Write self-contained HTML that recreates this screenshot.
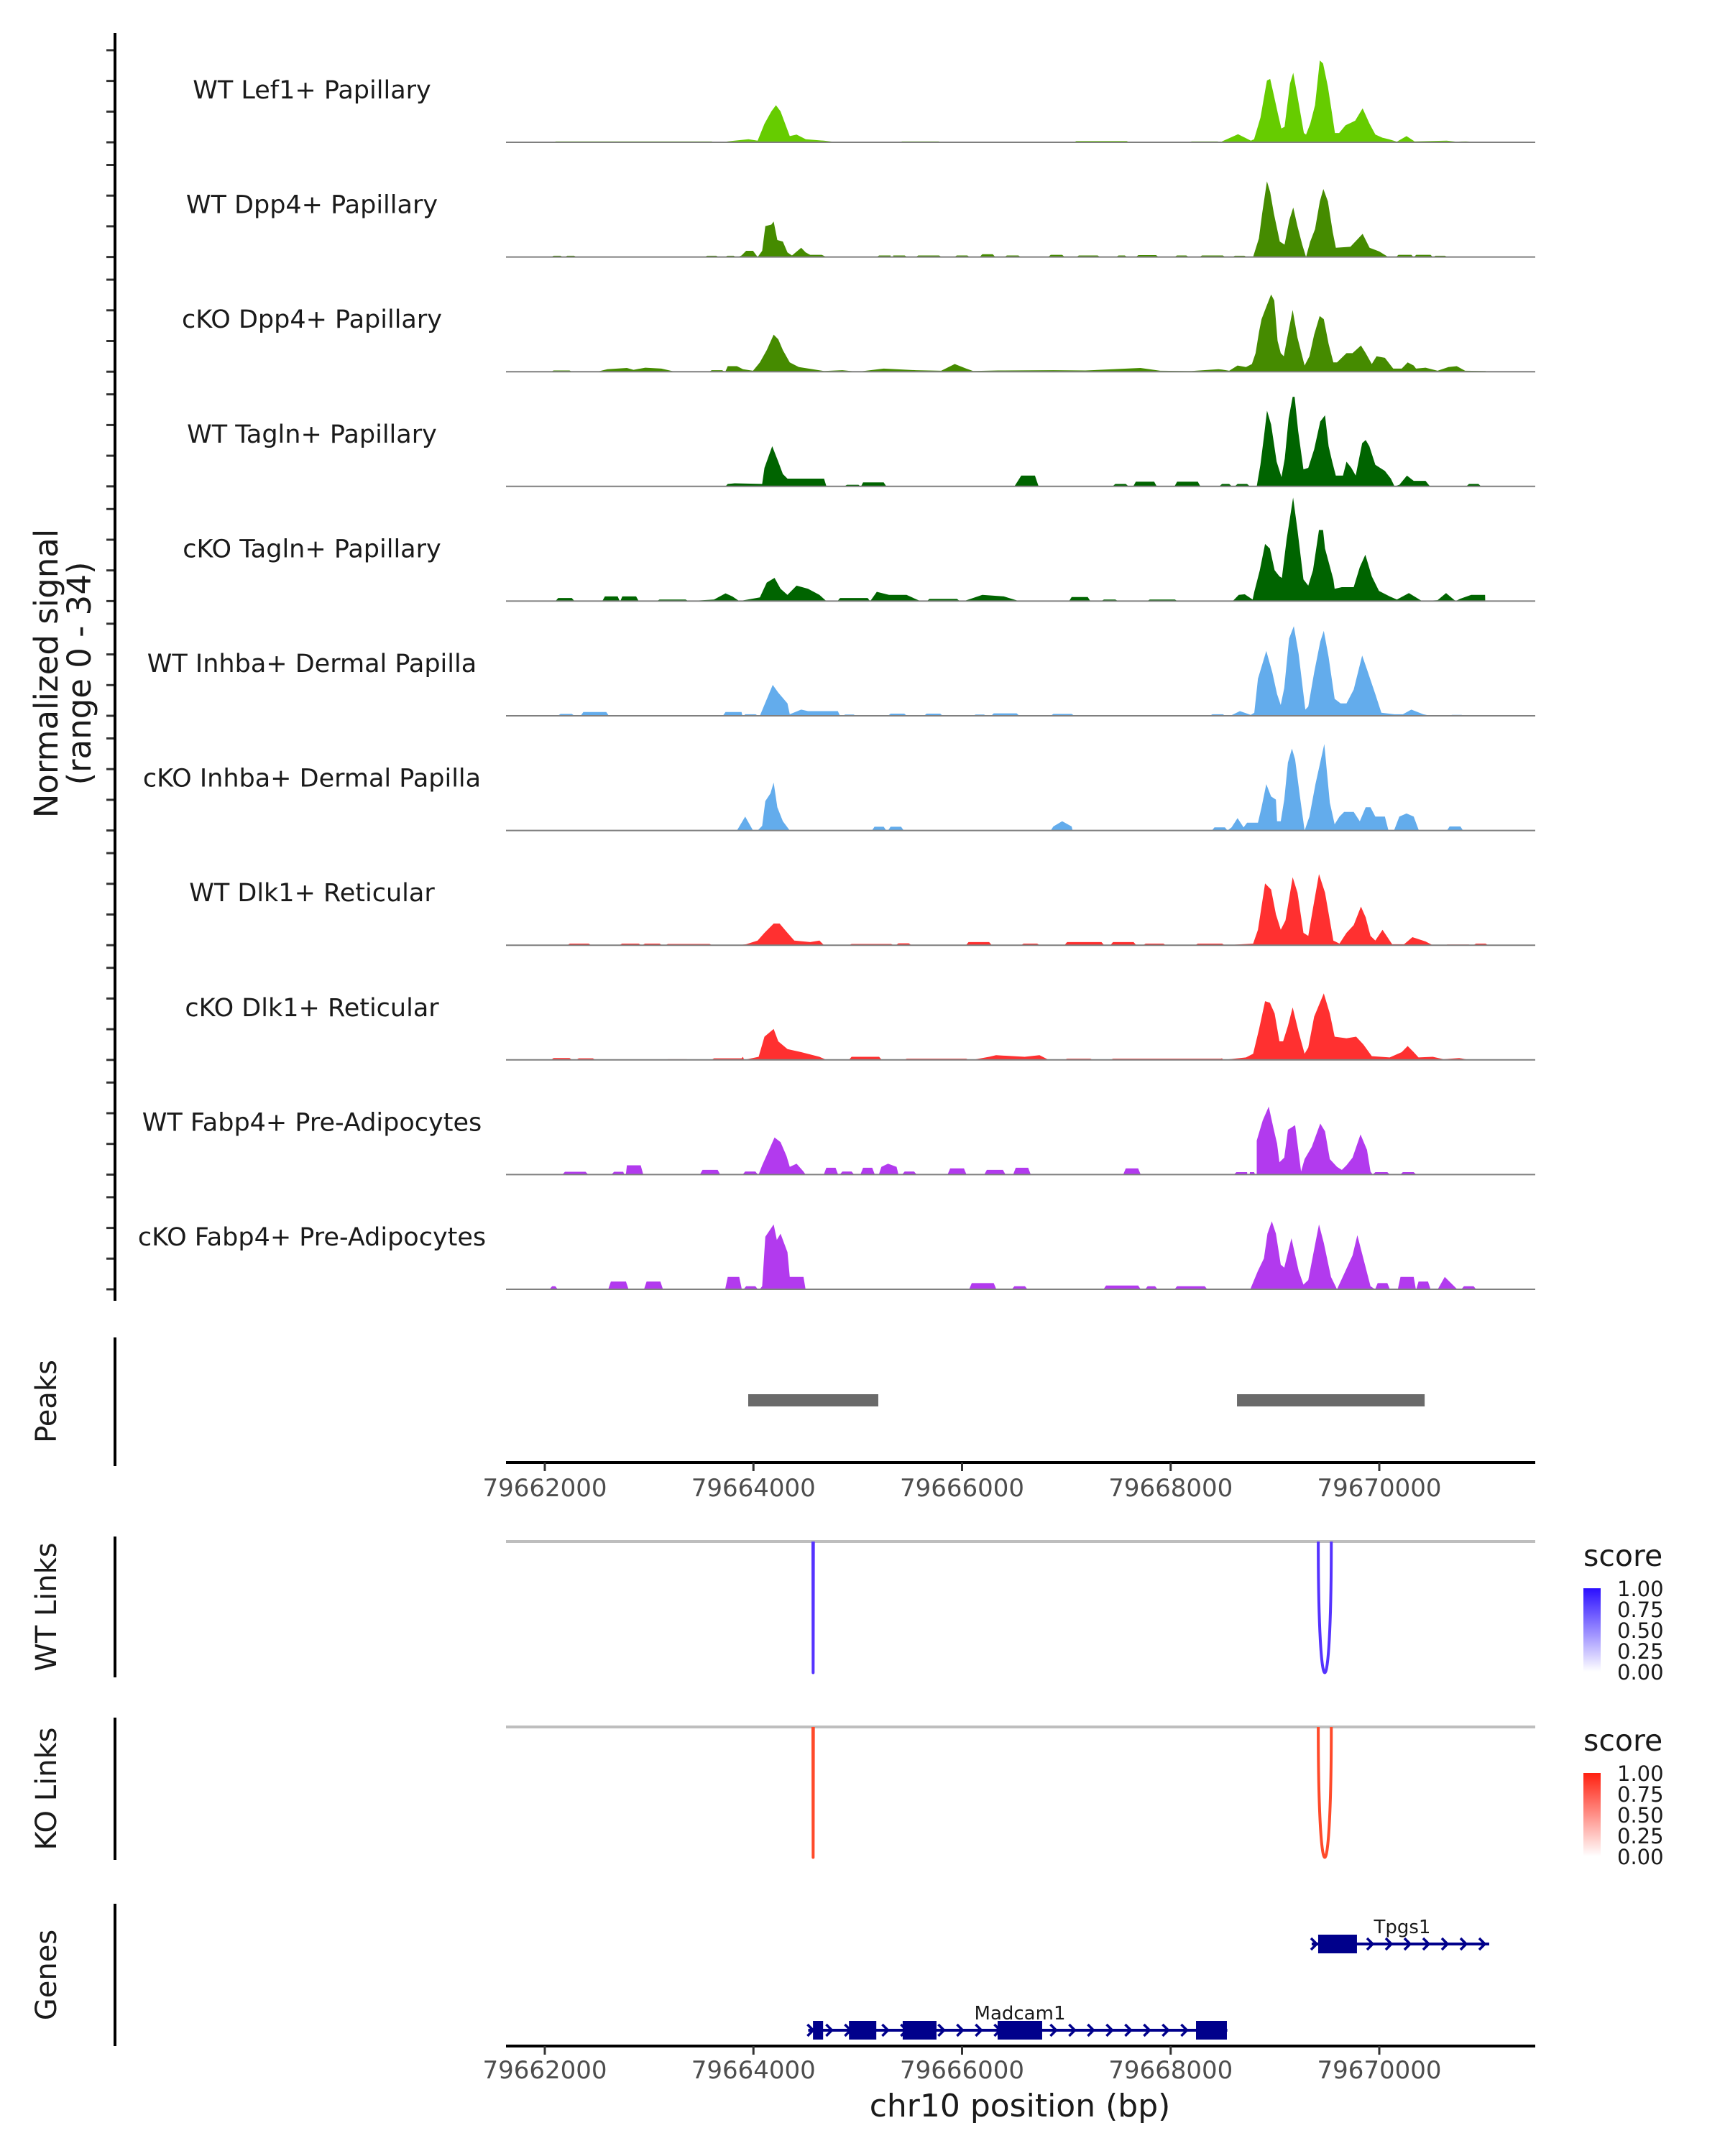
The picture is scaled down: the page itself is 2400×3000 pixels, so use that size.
<!DOCTYPE html>
<html><head><meta charset="utf-8">
<style>
html,body{margin:0;padding:0;background:#fff;}
svg{display:block;font-family:"DejaVu Sans","Liberation Sans",sans-serif;}
</style></head>
<body>
<svg id="chart" width="2400" height="3000" viewBox="0 0 2400 3000" xmlns="http://www.w3.org/2000/svg">
<rect width="2400" height="3000" fill="#fff"/>
<g id="tracks"></g>
<g id="peaks"></g>
<g id="links"></g>
<g id="genes"></g>
<g id="axes"></g>
<text transform="translate(80,937) rotate(-90)" text-anchor="middle" font-size="45" fill="#1a1a1a">Normalized signal</text>
<text transform="translate(126,937) rotate(-90)" text-anchor="middle" font-size="45" fill="#1a1a1a">(range 0 - 34)</text>
<text transform="translate(78,1950) rotate(-90)" text-anchor="middle" font-size="40" fill="#1a1a1a">Peaks</text>
<text transform="translate(78,2236) rotate(-90)" text-anchor="middle" font-size="40" fill="#1a1a1a">WT Links</text>
<text transform="translate(78,2489) rotate(-90)" text-anchor="middle" font-size="40" fill="#1a1a1a">KO Links</text>
<text transform="translate(78,2748) rotate(-90)" text-anchor="middle" font-size="40" fill="#1a1a1a">Genes</text>
<text x="1419" y="2945" text-anchor="middle" font-size="44" fill="#1a1a1a">chr10 position (bp)</text>
</svg>
<script>
// ---- data (bp offsets from 79662000, normalized signal 0-34) ----
// entries: [pos, value] points, or [start, end, value] plateaus
const trackNames = ["WT Lef1+ Papillary","WT Dpp4+ Papillary","cKO Dpp4+ Papillary","WT Tagln+ Papillary","cKO Tagln+ Papillary","WT Inhba+ Dermal Papilla","cKO Inhba+ Dermal Papilla","WT Dlk1+ Reticular","cKO Dlk1+ Reticular","WT Fabp4+ Pre-Adipocytes","cKO Fabp4+ Pre-Adipocytes"];
const trackColors = ["#66cc00","#458b00","#458b00","#006400","#006400","#63acec","#63acec","#ff3030","#ff3030","#b23aee","#b23aee"];
const sigLef1 = [[105,1600,0.3],[1700,0],[1754,0.3],[1952,1],[2040,0.5],[2106,6],[2172,10],[2216,12],[2260,10],[2304,6],[2348,2],[2414,2.5],[2501,1],[2677,0.5],[2809,0],[3424,3776,0.3],[5095,5579,0.4],[6200,6450,0.3],[6492,0.3],[6646,2.6],[6769,0.5],[6800,1],[6861,8],[6923,20],[6954,20.5],[6984,16],[7030,9],[7061,4.5],[7092,5],[7144,19],[7175,22.5],[7215,15],[7277,3],[7298,2.5],[7338,6],[7384,12],[7430,26.5],[7461,25.5],[7507,18],[7544,10],[7575,3],[7615,3],[7677,5.5],[7738,6.5],[7769,7],[7840,11],[7907,6],[7963,2.5],[8030,1.5],[8092,1],[8169,0.2],[8261,2],[8338,0.3],[8646,0.5],[8738,0.2],[8831,0.3],[9015,0]];
const sigWtDpp4 = [[84,150,0.4],[215,281,0.4],[1556,1644,0.4],[1750,1810,0.4],[1850,0],[1886,0.5],[1930,2],[1996,2],[2040,0],[2084,2],[2114,10],[2172,10.5],[2194,11.5],[2229,5.5],[2282,5],[2326,1.5],[2370,0.5],[2458,3],[2501,1.5],[2545,0.7],[2655,0.7],[2700,0],[3205,3315,0.5],[3340,3450,0.5],[3580,3780,0.5],[3950,4050,0.5],[4194,4294,0.9],[4430,4540,0.5],[4850,4960,0.7],[5120,5300,0.5],[5500,5560,0.5],[5690,5860,0.6],[6060,6150,0.5],[6300,6500,0.5],[6615,6707,0.4],[6790,0],[6846,6],[6877,14],[6923,24.5],[6954,21],[6990,14],[7046,5],[7092,4],[7138,12],[7175,16],[7215,10],[7261,4],[7298,0],[7338,5],[7384,9],[7430,18],[7464,22],[7507,18],[7554,8],[7584,3],[7723,3.3],[7784,5.5],[7840,7.5],[7907,3],[8000,1.8],[8086,0],[8184,8307,0.7],[8354,8492,0.7],[8538,8630,0.4]];
const sigKoDpp4 = [[84,237,0.4],[500,0],[600,0.8],[787,1.2],[850,0.6],[963,1.3],[1117,1],[1250,0],[1600,1700,0.5],[1730,0],[1754,1.8],[1842,1.8],[1900,0.8],[1996,0.3],[2062,3],[2128,7],[2194,12],[2238,10.5],[2282,7],[2348,3],[2436,1.5],[2677,0.2],[2853,0.5],[3000,0],[3249,1],[3556,0.5],[3800,0.3],[3930,2.5],[4040,1],[4106,0.2],[4348,0.4],[4875,0.5],[5183,0.4],[5447,0.8],[5710,1.2],[5900,0.3],[6200,0.2],[6458,0.8],[6492,0.7],[6561,0.3],[6641,2],[6722,1.5],[6779,2.5],[6814,6],[6848,13],[6871,17],[6917,21],[6963,25],[6993,23],[7025,10],[7055,6],[7085,5],[7112,10],[7170,20],[7216,11],[7284,2],[7330,5],[7376,12],[7429,18],[7468,17],[7514,9],[7560,3],[7595,3],[7686,6],[7744,6],[7824,8.5],[7870,6],[7928,2.5],[7974,5],[8054,4.5],[8134,1],[8215,1],[8272,3],[8330,2],[8352,1],[8444,1.3],[8559,0.3],[8663,1.5],[8743,1.8],[8823,0.3],[9019,0.2],[9030,0]];
const sigWtTagln = [[1732,0],[1754,0.8],[1820,1],[2084,0.8],[2106,6],[2180,13],[2238,8],[2282,4],[2326,2.5],[2677,2.5],[2700,0],[2897,3007,0.5],[3051,3249,1.3],[4502,0],[4568,3.5],[4699,3.5],[4734,0],[5469,5570,0.8],[5666,5842,1.5],[6062,6260,1.5],[6492,6561,0.8],[6641,6733,0.8],[6825,0],[6860,7],[6894,16],[6924,24.5],[6963,20],[7016,8],[7062,3],[7094,9],[7131,22],[7170,29],[7188,29],[7222,18],[7273,5.5],[7319,6],[7376,12],[7434,21],[7480,23],[7514,13],[7549,8],[7583,3.5],[7652,3.5],[7686,8],[7732,6],[7774,3.5],[7836,14],[7870,15],[7905,13],[7962,7],[8054,5],[8111,2.5],[8146,0],[8192,0.5],[8265,3.5],[8330,1.8],[8444,1.8],[8486,0],[8860,8950,0.8]];
const sigKoTagln = [[128,259,1],[576,699,1.5],[743,875,1.5],[1100,1350,0.5],[1622,0.5],[1732,2.5],[1798,1.5],[1864,0],[2062,1.2],[2128,6],[2202,7.5],[2260,4],[2326,2],[2414,5],[2523,4],[2633,2],[2699,0],[2831,3095,1],[3117,0],[3183,3],[3300,2],[3468,2],[3600,0],[3688,3952,0.7],[4018,0],[4194,2],[4400,1.5],[4546,0],[5051,5205,1.3],[5360,5470,0.5],[5800,6040,0.5],[6595,0],[6653,2],[6710,2.2],[6786,0.5],[6802,3],[6855,10],[6905,18.5],[6951,17],[6997,10],[7043,8],[7066,7.5],[7112,20],[7174,33.5],[7216,23],[7273,7],[7319,5],[7365,10],[7422,23],[7461,23],[7480,17],[7560,7],[7572,4],[7641,4.5],[7755,4.5],[7813,11],[7866,15],[7928,8],[7997,3.3],[8100,1.5],[8169,0.5],[8284,2.6],[8410,0],[8559,0.3],[8640,2.6],[8732,0],[8778,0.8],[8881,2],[8950,2],[9014,2],[9016,0]];
const sigWtInhba = [[150,259,0.6],[369,589,1.2],[1732,1886,1.2],[1920,2020,0.5],[2062,0],[2185,10],[2238,7.5],[2326,4],[2348,0.5],[2458,2],[2523,1.5],[2809,1.5],[2830,0],[2880,2960,0.4],[3315,3446,0.7],[3660,3790,0.7],[4130,4210,0.4],[4304,4524,0.8],[4875,5051,0.6],[6400,6500,0.5],[6584,0.2],[6664,1.5],[6768,0.3],[6802,1],[6837,12],[6917,21],[6975,14],[7020,7],[7055,3.5],[7089,9],[7135,25],[7181,29],[7227,20],[7291,2],[7319,3],[7376,14],[7434,24],[7468,27.5],[7514,19],[7572,5.5],[7629,4],[7686,4],[7755,8.5],[7836,19.5],[7882,15],[7962,7],[8020,1],[8146,0.5],[8226,0.5],[8307,2],[8422,0.5],[8490,0],[8697,8789,0.3]];
const sigKoInhba = [[1842,0],[1921,4.5],[1996,0],[2040,0],[2084,1.5],[2114,9.5],[2163,12],[2194,15.5],[2229,7.5],[2282,3],[2348,0],[3161,3249,1.2],[3315,3416,1.2],[4875,5051,1.3],[4960,3],[5051,1.3],[5060,0],[6420,6520,1],[6584,1],[6641,4],[6699,1],[6733,2.5],[6837,2.5],[6871,7.5],[6917,15],[6963,11],[7009,10],[7020,3],[7055,3],[7089,10],[7124,22],[7163,26.5],[7193,23],[7239,11],[7284,0],[7330,4.5],[7388,15],[7473,28],[7526,9],[7572,2],[7618,4.5],[7663,6],[7755,6],[7813,3],[7870,7.5],[7916,7.5],[7962,4.5],[8054,4.5],[8088,0],[8141,0],[8192,4.5],[8261,5.5],[8330,4.5],[8380,0],[8674,8778,1.3]];
const sigWtDlk1 = [[240,420,0.5],[740,900,0.5],[960,1100,0.5],[1180,1580,0.4],[1850,0],[1930,0.3],[2040,1.5],[2106,4],[2194,7],[2251,7],[2326,4],[2392,1.5],[2545,1],[2633,1.5],[2677,0],[2941,3320,0.4],[3390,3490,0.6],[4062,4260,1],[4590,4720,0.5],[5007,5337,1],[5447,5645,1],[5760,5930,0.5],[6260,6493,0.5],[6791,0.5],[6837,5],[6905,20],[6963,18],[7009,10],[7055,5],[7101,8],[7170,22],[7216,17],[7273,4],[7319,3],[7365,12],[7422,23],[7480,17],[7560,1.5],[7618,0.5],[7686,4],[7755,6.5],[7824,12.5],[7870,9],[7916,3],[7962,1.5],[8031,5],[8123,0.3],[8238,0.3],[8318,2.6],[8444,1.2],[8513,0],[8651,8858,0.2],[8927,9019,0.5]];
const sigKoDlk1 = [[84,237,0.6],[325,460,0.5],[1180,1360,0.2],[1622,1886,0.5],[1900,1.0],[2050,1.0],[2106,7.5],[2194,10],[2238,6],[2326,3.5],[2458,2.5],[2633,1],[2699,0],[2941,3205,1],[3470,4040,0.4],[4100,0],[4260,1],[4326,1.5],[4600,1],[4743,1.5],[4831,0],[5007,5230,0.4],[5447,6480,0.4],[6492,0.5],[6722,0.8],[6791,2],[6848,10],[6905,19],[6951,18.5],[6997,15],[7043,6],[7078,6],[7124,11],[7170,17],[7227,9],[7284,2],[7319,4],[7376,14],[7468,21.5],[7526,15],[7572,7.5],[7686,7],[7778,7.5],[7847,5],[7928,1.2],[8100,0.8],[8215,2.5],[8272,4.5],[8330,2.5],[8376,0.8],[8513,1],[8617,0.2],[8766,0.6],[8858,0]];
const sigWtFabp4 = [[193,391,0.9],[664,752,0.9],[787,919,3],[1512,1657,1.5],[1921,2018,1],[2050,0],[2084,3],[2150,8],[2202,12],[2260,10.5],[2317,6],[2348,2.5],[2414,3.5],[2480,1],[2500,0],[2699,2787,2.2],[2853,2941,1],[3051,3139,2.2],[3227,3372,2.5],[3290,3.5],[3372,2.5],[3390,0],[3450,3540,1],[3886,4018,2],[4238,4392,1.5],[4515,4634,2.2],[5570,5688,2],[6630,6733,0.8],[6760,6800,0.8],[6810,0],[6825,11],[6882,17.5],[6940,22],[6986,15],[7020,10],[7043,4],[7089,5.5],[7124,14.5],[7193,16],[7250,1],[7284,5],[7353,9],[7434,16.5],[7480,14],[7526,5],[7595,2.5],[7641,1.5],[7686,3],[7744,5.5],[7820,13],[7882,8],[7916,1],[7962,8077,0.8],[8226,8330,0.8]];
const sigKoFabp4 = [[70,100,1],[633,778,2.5],[976,1108,2.5],[1754,1864,4],[1930,2018,1],[2060,0],[2084,1],[2114,17],[2194,21],[2224,16],[2260,18],[2326,12],[2348,4],[2480,4],[2500,0],[4093,4304,2],[4502,4603,1],[5381,5688,1.2],[5780,5850,1],[6062,6326,1],[6763,0],[6837,6],[6894,10],[6928,18],[6970,22],[7009,18],[7055,8],[7089,7],[7158,16.5],[7227,6],[7273,1.5],[7319,3],[7365,11],[7422,21],[7468,15],[7537,4],[7595,0],[7663,5],[7744,11],[7790,17.5],[7847,10],[7916,1],[7985,8077,2],[8203,8330,4],[8376,8467,2.5],[8560,0],[8628,4],[8732,0.5],[8750,0],[8812,8904,1]];
const signals = [sigLef1,sigWtDpp4,sigKoDpp4,sigWtTagln,sigKoTagln,sigWtInhba,sigKoInhba,sigWtDlk1,sigKoDlk1,sigWtFabp4,sigKoFabp4];
const peakStarts = [1950, 6636];
const peakEnds = [3197, 8435];
const xTicks = [0, 2000, 4000, 6000, 8000];
const xTickLabels = ["79662000","79664000","79666000","79668000","79670000"];
const wtLinkStarts = [2570, 7415];
const wtLinkEnds = [2575, 7540];
const wtLinkScores = [0.8, 0.8];
const koLinkStarts = [2570, 7415];
const koLinkEnds = [2575, 7540];
const koLinkScores = [0.8, 0.8];
const legendTicks = ["1.00","0.75","0.50","0.25","0.00"];
const geneNames = ["Tpgs1","Madcam1"];
const geneStarts = [7352, 2525];
const geneEnds = [9054, 6543];
const geneExons = [[[7414,7786]], [[2571,2668],[2916,3178],[3431,3755],[4341,4768],[6243,6539]]];

// ---- scales ----
const NS = "http://www.w3.org/2000/svg";
const X0 = 758, PXBP = 1161/8000, PLOT_L = 704, PLOT_R = 2136;
const xs = bp => X0 + bp*PXBP;
const BASE0 = 198, STEP = 159.6, YUNIT = 4.3;
const baseY = i => BASE0 + STEP*i;
function el(tag, attrs, parent){ const e=document.createElementNS(NS,tag); for(const k in attrs) e.setAttribute(k,attrs[k]); parent.appendChild(e); return e; }

// ---- coverage tracks ----
const gT = document.getElementById('tracks');
signals.forEach((sig,i)=>{
  const b = baseY(i);
  const pts = [];
  sig.forEach(p=>{
    if(p.length===3){ pts.push([p[0]-25,0],[p[0],p[2]],[p[1],p[2]],[p[1]+25,0]); }
    else pts.push(p);
  });
  pts.sort((a,c)=>a[0]-c[0]);
  let d = "M"+xs(pts[0][0]).toFixed(1)+","+b;
  pts.forEach(p=>{ d += " L"+xs(p[0]).toFixed(1)+","+(b-p[1]*YUNIT).toFixed(1); });
  d += " L"+xs(pts[pts.length-1][0]).toFixed(1)+","+b+" Z";
  const area = el('path',{d:d,fill:trackColors[i]},gT);
  
  
  const bl = el('line',{x1:PLOT_L,x2:PLOT_R,y1:b,y2:b,stroke:'#7f7f7f','stroke-width':2},gT);
  
  
  const lab = el('text',{x:434,y:b-71,'text-anchor':'middle','dominant-baseline':'middle','font-size':35,fill:'#1a1a1a'},gT);
  lab.textContent = trackNames[i];
  
  
  for(let k=0;k<4;k++){
    const t = el('line',{x1:148,x2:160,y1:b-k*42.7,y2:b-k*42.7,stroke:'#333','stroke-width':3},gT);
    
    
  }
});
const yAx = el('line',{x1:160,x2:160,y1:46,y2:1810,stroke:'#000','stroke-width':4},gT);



// ---- peaks ----
const gP = document.getElementById('peaks');
peakStarts.forEach((s,i)=>{
  const r = el('rect',{x:xs(s),y:1940,width:xs(peakEnds[i])-xs(s),height:17,fill:'#6a6a6a'},gP);
  
  
});

// ---- axes ----
const gA = document.getElementById('axes');
[[1861,2040],[2138,2334],[2390,2588],[2649,2847]].forEach(s=>{
  const l = el('line',{x1:160,x2:160,y1:s[0],y2:s[1],stroke:'#000','stroke-width':4},gA);
  
  
});
[[2035,2082],[2847,2892]].forEach(a=>{
  const l = el('line',{x1:PLOT_L,x2:PLOT_R,y1:a[0],y2:a[0],stroke:'#000','stroke-width':4},gA);
  
  
  xTicks.forEach((t,k)=>{
    const tk = el('line',{x1:xs(t),x2:xs(t),y1:a[0],y2:a[0]+12,stroke:'#333','stroke-width':3},gA);
    
    
    const tl = el('text',{x:xs(t),y:a[1],'text-anchor':'middle','font-size':34,fill:'#4d4d4d'},gA);
    tl.textContent = xTickLabels[k];
    
    
  });
});

// ---- links ----
const gL = document.getElementById('links');
const defs = el('defs',{},gL);
function grad(id,c){ const g=el('linearGradient',{id:id,x1:0,y1:1,x2:0,y2:0},defs); el('stop',{offset:0,'stop-color':'#ffffff'},g); el('stop',{offset:1,'stop-color':c},g); }
grad('gw','#2b0fff'); grad('gk','#ff2010');
function linkPanel(top,bottom,starts,ends,scores,color,gid,legTop){
  const gl = el('line',{x1:PLOT_L,x2:PLOT_R,y1:top,y2:top,stroke:'#bebebe','stroke-width':4},gL);
  
  
  starts.forEach((s,i)=>{
    const x1=xs(s), x2=xs(ends[i]), depth=(bottom-top)*(scores[i]/0.8);
    const p = el('path',{d:`M${x1},${top} C${x1},${top+depth*1.33} ${x2},${top+depth*1.33} ${x2},${top}`,fill:'none',stroke:color,'stroke-width':4},gL);
    
    
  });
  const st = el('text',{x:2203,y:legTop-31,'font-size':41,fill:'#1a1a1a'},gL);
  st.textContent = 'score';
  
  
  const cb = el('rect',{x:2203,y:legTop,width:24,height:116,fill:`url(#${gid})`},gL);
  
  
  legendTicks.forEach((t,k)=>{
    const tx = el('text',{x:2250,y:legTop+k*29+11,'font-size':29,fill:'#1a1a1a'},gL);
    tx.textContent = t;
    
    
  });
}
linkPanel(2145,2328,wtLinkStarts,wtLinkEnds,wtLinkScores,'#5533ff','gw',2210);
linkPanel(2403,2585,koLinkStarts,koLinkEnds,koLinkScores,'#ff4a2a','gk',2467);

// ---- genes ----
const gG = document.getElementById('genes');
const geneY = [2705, 2825];
geneNames.forEach((n,i)=>{
  const y = geneY[i];
  const ln = el('line',{x1:xs(geneStarts[i]),x2:xs(geneEnds[i]),y1:y,y2:y,stroke:'#00008b','stroke-width':4},gG);
  
  
  for(let x=xs(geneStarts[i])+4; x<=xs(geneEnds[i])+2; x+=26){
    const c = el('path',{d:`M${x-5},${y-8} L${x+3},${y} L${x-5},${y+8}`,fill:'none',stroke:'#00008b','stroke-width':3.5},gG);
    
    
  }
  geneExons[i].forEach(ex=>{
    const r = el('rect',{x:xs(ex[0]),y:y-13,width:xs(ex[1])-xs(ex[0]),height:26,fill:'#00008b'},gG);
    
    
  });
  const cx = i===0 ? 1951 : 1419;
  const t = el('text',{x:cx,y:y-15,'text-anchor':'middle','font-size':26,fill:'#1a1a1a'},gG);
  t.textContent = n;
  
  
});
</script>
</body></html>
